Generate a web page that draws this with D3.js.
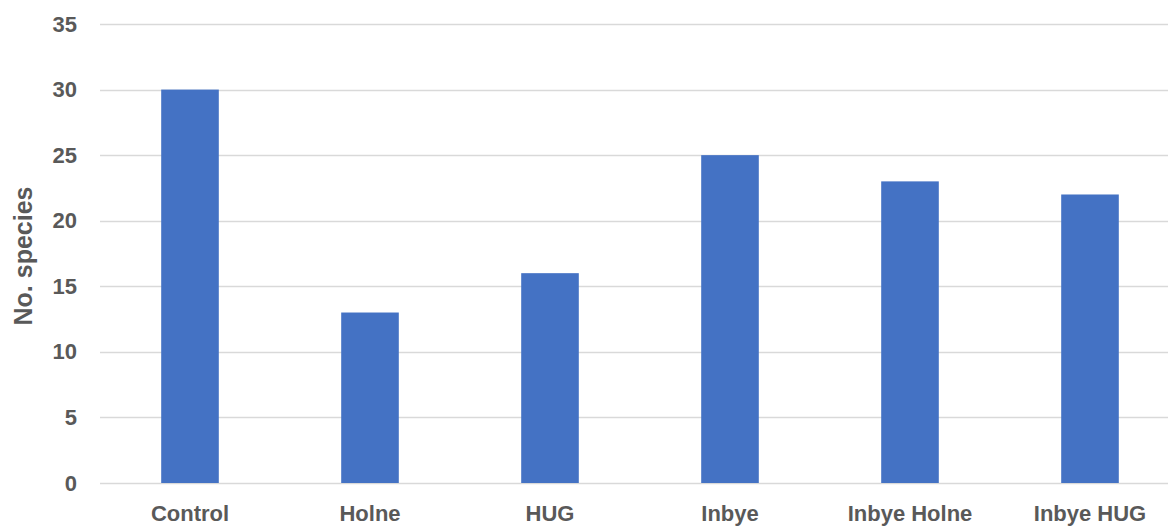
<!DOCTYPE html>
<html>
<head>
<meta charset="utf-8">
<script src="https://cdn.jsdelivr.net/npm/d3@7"></script>
<style>
  body { margin: 0; background: #fff; }
  svg { display: block; font-family: "Liberation Sans", Arial, sans-serif; }
</style>
</head>
<body>
<svg id="chart" width="1168" height="526"></svg>
<script>
// data
const categories = ["Control", "Holne", "HUG", "Inbye", "Inbye Holne", "Inbye HUG"];
const species = [30, 13, 16, 25, 23, 22];
const yTicks = [0, 5, 10, 15, 20, 25, 30, 35];

const svg = d3.select("#chart"),
      margin = {top: 24, left: 100},
      plotW = 1080,
      plotH = 459;

const g = svg.append("g")
             .attr("transform", `translate(${margin.left},${margin.top})`);

const x = d3.scaleBand()
            .domain(categories)
            .range([0, plotW])
            .paddingInner(0.68)
            .paddingOuter(0.34);

const y = d3.scaleLinear()
            .domain([0, 35])
            .range([plotH, 0]);

// grid lines
g.selectAll("line.grid")
  .data(yTicks)
  .enter().append("line")
    .attr("class", "grid")
    .attr("x1", 0)
    .attr("x2", 1068)
    .attr("y1", d => Math.round(y(d)) + 0.5)
    .attr("y2", d => Math.round(y(d)) + 0.5)
    .attr("stroke", "#d9d9d9")
    .attr("stroke-width", 1.5);

// y axis labels
const yAxis = g.append("g")
  .call(d3.axisLeft(y).tickValues(yTicks).tickSize(0).tickPadding(23));
yAxis.select(".domain").remove();
yAxis.selectAll("text")
  .style("font-size", "22px")
  .style("font-weight", "bold")
  .style("fill", "#595959");

// bars
g.selectAll("rect")
  .data(categories)
  .enter().append("rect")
    .attr("x", d => x(d))
    .attr("y", (d, i) => y(species[i]))
    .attr("width", x.bandwidth())
    .attr("height", (d, i) => plotH - y(species[i]))
    .attr("fill", "#4472c4");

// x axis labels (bottom edge cuts them slightly, as in the original)
const xAxis = g.append("g")
  .attr("transform", `translate(0,${plotH})`)
  .call(d3.axisBottom(x).tickSize(0).tickPadding(22));
xAxis.select(".domain").remove();
xAxis.selectAll("text")
  .style("font-size", "22px")
  .style("font-weight", "bold")
  .style("fill", "#595959");

// axis title
svg.append("text")
  .attr("transform", "translate(32,256) rotate(-90)")
  .attr("text-anchor", "middle")
  .style("font-size", "25px")
  .style("font-weight", "bold")
  .style("fill", "#595959")
  .text("No. species");
</script>
</body>
</html>
